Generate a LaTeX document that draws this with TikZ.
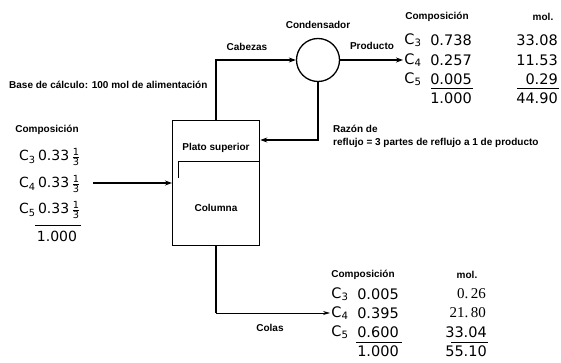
\documentclass[tikz,border=0pt]{standalone}
\usepackage{amsmath}
\usepackage{fontspec}
\setmainfont{Liberation Sans}
\newfontfamily\serifnum{Liberation Serif}
\newfontfamily\numfont{DejaVu Sans}
\usetikzlibrary{arrows.meta}
\newcommand{\cmp}[1]{C\textsubscript{#1}}
\newcommand{\onethird}{$\frac{\text{1}}{\text{3}}$}
\begin{document}
\begin{tikzpicture}[x=1pt,y=-1pt,
  lbl/.style={font=\fontsize{10}{11}\selectfont\bfseries, inner sep=0pt},
  num/.style={font=\fontsize{14.5}{16}\selectfont\numfont, inner sep=0pt},
  lnum/.style={font=\fontsize{14}{16}\selectfont\numfont, inner sep=0pt},
  snum/.style={font=\fontsize{15}{16}\selectfont\serifnum, inner sep=0pt},
  flow/.style={line width=1.8pt, -{Stealth[length=7pt,width=5pt]}},
  thinflow/.style={line width=0.8pt, -{Stealth[length=7pt,width=4pt]}},
  thickline/.style={line width=1.8pt},
  rule/.style={line width=0.8pt},
  box/.style={draw, line width=1.3pt, inner sep=0pt}]
\useasboundingbox (0,0) rectangle (561,363);
% main units
\node[box, minimum width=87pt, minimum height=125pt, anchor=north west] (col) at (172,120) {};
\node[box, circle, minimum size=43pt] (cond) at (318,60) {};
\draw[line width=1pt] (178,178) -- (178,162) -- (col.east |- 0,162);
\node[lbl] (plato) at (216,148) {Plato superior};
\node[lbl] (columna) at (216,208) {Columna};
% connectors
\coordinate (prodend) at (403,60);
\coordinate (refl) at (col.east |- 0,140);
\coordinate (feedstart) at (93,183);
\coordinate (ccorner) at (col.south |- 0,313);
\coordinate (colasend) at (330,313);
\draw[flow] (col.north) |- (cond.west);
\draw[flow] (cond.east) -- (prodend);
\draw[flow] (cond.south) |- (refl);
\draw[flow] (feedstart) -- (col.west |- feedstart);
\draw[thickline] (col.south) -- (ccorner);
\draw[thinflow] (ccorner) -- (colasend);
% labels
\node[lbl] (cabezas) at (247,47) {Cabezas};
\node[lbl] (condensador) at (318,25) {Condensador};
\node[lbl] (producto) at (372,46) {Producto};
\node[lbl, anchor=west] (base) at (9,85) {Base de cálculo: 100 mol de alimentación};
\node[lbl, anchor=west] (razon1) at (333,129) {Razón de};
\node[lbl, anchor=west] (razon2) at (333,143) {reflujo = 3 partes de reflujo a 1 de producto};
\node[lbl] (colas) at (270,328) {Colas};
% left table
\node[lbl] (lcomp) at (47,130) {Composición};
\node[lnum, anchor=west] (l3) at (19,157) {\cmp{3}\,0.33\,\onethird};
\node[lnum, anchor=west] (l4) at (19,184) {\cmp{4}\,0.33\,\onethird};
\node[lnum, anchor=west] (l5) at (19,210) {\cmp{5}\,0.33\,\onethird};
\node[lnum] (ltot) at (57,236) {1.000};
\draw[rule] (35,225) -- (81,225);
% top right table
\node[lbl] (tcomp) at (437,17) {Composición};
\node[lbl] (tmol) at (543,17) {mol.};
\node[num] (tc3) at (413,40) {\cmp{3}};
\node[num] (tc4) at (413,60) {\cmp{4}};
\node[num] (tc5) at (413,79) {\cmp{5}};
\node[num] (tn3) at (451,40) {0.738};
\node[num] (tn4) at (451,60) {0.257};
\node[num] (tn5) at (451,79) {0.005};
\node[num] (tnt) at (451,98) {1.000};
\node[num, anchor=east] (tm3) at (558,40) {33.08};
\node[num, anchor=east] (tm4) at (558,60) {11.53};
\node[num, anchor=east] (tm5) at (558,79) {0.29};
\node[num, anchor=east] (tmt) at (558,98) {44.90};
\draw[rule] (431,88) -- (473,88);
\draw[rule] (517,88) -- (559,88);
% bottom table
\node[lbl] (bcomp) at (363,275) {Composición};
\node[lbl] (bmol) at (467,275) {mol.};
\node[num] (bc3) at (340,294) {\cmp{3}};
\node[num] (bc4) at (340,313) {\cmp{4}};
\node[num] (bc5) at (340,332) {\cmp{5}};
\node[num] (bn3) at (378,294) {0.005};
\node[num] (bn4) at (378,313) {0.395};
\node[num] (bn5) at (378,332) {0.600};
\node[num] (bnt) at (378,351) {1.000};
\node[snum, anchor=east] (bm3) at (486,294) {0.\,26};
\node[snum, anchor=east] (bm4) at (486,313) {21.\,80};
\node[num, anchor=east] (bm5) at (487,332) {33.04};
\node[num, anchor=east] (bmt) at (487,351) {55.10};
\draw[rule] (356,342) -- (402,342);
\draw[rule] (451,342) -- (488,342);
\end{tikzpicture}
\end{document}
